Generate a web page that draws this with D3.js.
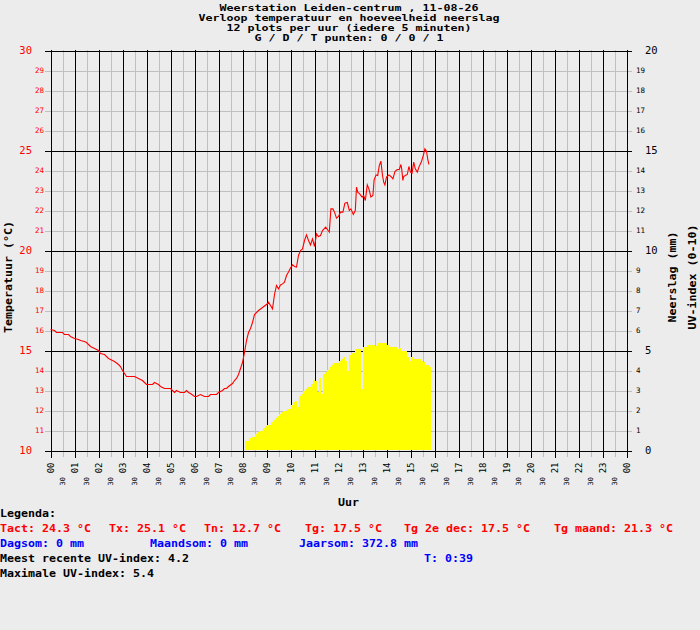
<!DOCTYPE html>
<html><head><meta charset="utf-8">
<script src="https://cdn.jsdelivr.net/npm/d3@7"></script>
<style>
html,body{margin:0;padding:0;background:#ececec;}
svg{display:block;}
text{font-family:"DejaVu Sans Mono",monospace;}
</style></head><body>
<svg id="c" width="700" height="630"></svg>
<script>
// ---------- DATA ----------
const titleLines = [
  "Weerstation Leiden-centrum , 11-08-26",
  "Verloop temperatuur en hoeveelheid neerslag",
  "12 plots per uur (iedere 5 minuten)",
  "G / D / T punten: 0 / 0 / 1"
];
const tempMinutes = [0,10,15,30,35,45,50,60,70,75,85,90,100,110,120,125,135,145,160,170,175,180,190,210,220,230,235,240,255,260,270,275,285,300,310,315,325,335,340,345,350,360,365,375,385,395,400,415,420,430,435,440,445,455,460,465,470,475,480,485,490,495,500,505,510,520,530,540,545,550,555,560,565,570,575,580,585,590,595,600,605,610,615,620,625,630,635,640,645,650,655,660,665,670,675,680,688,694,697,701,706,710,715,720,725,731,736,742,747,751,757,762,765,768,773,779,783,787,792,796,801,806,809,814,818,822,826,830,833,836,840,846,851,856,861,867,872,876,878,881,883,887,892,896,900,904,908,912,917,921,927,932,936,940,943,946];
const tempValues = [16.05,16.0,15.9,15.9,15.8,15.8,15.7,15.6,15.55,15.5,15.45,15.4,15.2,15.1,15.0,14.85,14.8,14.6,14.45,14.3,14.2,14.0,13.7,13.7,13.6,13.5,13.4,13.3,13.3,13.4,13.3,13.2,13.1,13.1,12.9,13.0,12.9,12.9,13.0,12.9,12.85,12.7,12.7,12.8,12.7,12.7,12.8,12.8,12.9,13.0,13.1,13.1,13.2,13.35,13.5,13.6,13.8,14.1,14.4,14.9,15.5,15.9,16.1,16.4,16.8,17.0,17.15,17.3,17.42,17.25,17.08,17.8,18.25,18.08,18.28,18.33,18.42,18.75,18.92,19.13,19.28,19.2,19.17,19.75,20.0,20.08,20.5,20.78,20.5,20.28,20.58,20.2,20.83,20.7,20.75,21.0,21.17,21.0,20.92,22.08,22.08,21.92,21.62,21.7,21.92,21.92,22.37,22.4,22.0,22.08,21.8,22.0,23.17,22.92,22.83,22.67,22.75,22.5,23.28,23.08,22.67,22.75,23.53,23.78,23.75,24.25,24.47,23.75,23.42,23.28,23.67,23.78,23.7,23.58,23.95,24.05,24.05,24.3,24.08,23.5,23.7,23.75,23.8,24.2,23.92,23.87,24.42,24.08,23.92,24.17,24.42,24.75,25.08,24.97,24.58,24.3];
const uvStartMinute = 485;   // 08:05
const uvStepMinutes = 5;
const uvValues = [0.5,0.5,0.62,0.7,0.7,0.83,0.92,1.0,1.0,1.13,1.22,1.3,1.3,1.42,1.53,1.63,1.73,1.83,1.92,2.0,2.0,2.1,2.1,2.3,2.42,2.5,2.2,2.72,2.83,2.97,3.08,3.2,3.2,3.33,3.53,3.47,2.92,3.62,2.83,3.83,3.92,4.03,4.2,4.3,4.4,4.4,4.4,4.5,4.6,4.7,4.5,4.0,4.8,4.9,4.9,5.08,5.08,5.08,3.1,5.17,5.2,5.3,5.3,5.3,5.3,5.25,5.38,5.4,5.4,5.4,5.38,5.3,5.2,5.2,5.2,5.2,5.08,5.13,5.0,4.97,4.97,4.7,4.5,4.7,4.6,4.6,4.58,4.58,4.5,4.42,4.3,4.3,4.2];
const tempMinorTicks = [11,12,13,14,16,17,18,19,21,22,23,24,26,27,28,29];
const tempMajorTicks = [10,15,20,25,30];
const rightMinorTicks = [1,2,3,4,6,7,8,9,11,12,13,14,16,17,18,19];
const rightMajorTicks = [0,5,10,15,20];
const hourTicks = d3.range(0, 25).map(h => h * 60);
const halfHourTicks = d3.range(0, 24).map(h => h * 60 + 30);
const leftTitle = "Temperatuur (°C)";
const rightTitles = ["Neerslag (mm)", "UV-index (0-10)"];
const xTitle = "Uur";
const legendHeader = "Legenda:";
const legendRed = ["Tact: 24.3 °C","Tx: 25.1 °C","Tn: 12.7 °C","Tg: 17.5 °C","Tg 2e dec: 17.5 °C","Tg maand: 21.3 °C"];
const legendBlue = ["Dagsom: 0 mm","Maandsom: 0 mm","Jaarsom: 372.8 mm"];
const legendUV = ["Meest recente UV-index: 4.2","Maximale UV-index: 5.4"];
const legendTime = "T: 0:39";

// ---------- LAYOUT ----------
const svg = d3.select("#c");
const FONT = "DejaVu Sans Mono, monospace";
const BOLD_SIZE = "10.5px";
const TITLE_SIZE = "8.5px";
const CHAR_W = 7;
const x = d3.scaleLinear().domain([0, 1440]).range([50.5, 626.5]);
const y = d3.scaleLinear().domain([10, 30]).range([450.5, 50.5]);
const y2 = d3.scaleLinear().domain([0, 20]).range([450.5, 50.5]);
const GRAY = "#c0c0c0";

function styleAxis(g, lineColor, textColor, size) {
  g.select(".domain").remove();
  g.selectAll(".tick line").attr("stroke", lineColor).attr("shape-rendering", "crispEdges");
  g.selectAll(".tick text").attr("fill", textColor).attr("font-size", size).attr("font-family", FONT);
}
function boldText(sel, size) {
  sel.attr("font-weight", "bold").attr("font-size", size || BOLD_SIZE)
     .attr("textLength", d => (typeof d === "string" ? d.length : 1) * CHAR_W)
     .attr("lengthAdjust", "spacingAndGlyphs");
}

// horizontal minor grid (gray) with red small labels
svg.append("g").attr("transform", "translate(45,0)")
  .call(d3.axisLeft(y).tickValues(tempMinorTicks).tickSize(-587).tickPadding(1).tickFormat(d3.format("d")))
  .call(g => styleAxis(g, GRAY, "#ff0000", "7.5px"));

// vertical half-hour grid (gray)
const hh = svg.append("g").attr("transform", "translate(0,457)")
  .call(d3.axisBottom(x).tickValues(halfHourTicks).tickSize(-407).tickFormat(() => "30"))
  .call(g => styleAxis(g, GRAY, "#000", "7px"));
hh.selectAll(".tick text").attr("transform", "rotate(-90)").attr("text-anchor", "end")
  .attr("x", -20).attr("y", 0).attr("dy", "0.35em");

// vertical hour grid (black)
const hg = svg.append("g").attr("transform", "translate(0,458)")
  .call(d3.axisBottom(x).tickValues(hourTicks).tickSize(-408).tickFormat(d => d3.format("02d")((d / 60) % 24)))
  .call(g => styleAxis(g, "#000", "#000", "9px"));
hg.selectAll(".tick text").attr("transform", "rotate(-90)").attr("text-anchor", "end")
  .attr("x", -4.5).attr("y", 0).attr("dy", "0.36em");

// horizontal major grid (black) with red larger labels
svg.append("g").attr("transform", "translate(45,0)")
  .call(d3.axisLeft(y).tickValues(tempMajorTicks).tickSize(-587).tickPadding(13).tickFormat(d3.format("d")))
  .call(g => styleAxis(g, "#000", "#ff0000", "10.5px"));

// right axis labels
svg.append("g").attr("transform", "translate(632,0)")
  .call(d3.axisRight(y2).tickValues(rightMinorTicks).tickSize(0).tickPadding(4).tickFormat(d3.format("d")))
  .call(g => styleAxis(g, "none", "#000", "7.5px"));
svg.append("g").attr("transform", "translate(632,0)")
  .call(d3.axisRight(y2).tickValues(rightMajorTicks).tickSize(0).tickPadding(13).tickFormat(d3.format("d")))
  .call(g => styleAxis(g, "none", "#000", "10.5px"));

// UV area (yellow, stepped)
const uvData = uvValues.map((v, i) => ({ m: uvStartMinute + i * uvStepMinutes, v }));
uvData.push({ m: uvStartMinute + uvValues.length * uvStepMinutes, v: uvValues[uvValues.length - 1] });
svg.append("path").datum(uvData)
  .attr("fill", "#ffff00").attr("shape-rendering", "crispEdges")
  .attr("d", d3.area().curve(d3.curveStepAfter).x(d => x(d.m)).y0(y2(0) - 0.5).y1(d => y2(d.v)));

// temperature line
const tData = tempMinutes.map((m, i) => ({ m, t: tempValues[i] }));
svg.append("path").datum(tData)
  .attr("fill", "none").attr("stroke", "#ff0000").attr("stroke-width", 1.1)
  .attr("d", d3.line().x(d => x(d.m)).y(d => y(d.t)));

// titles
svg.append("g").selectAll("text").data(titleLines).join("text")
  .attr("x", 349).attr("y", (d, i) => 11 + i * 10)
  .attr("text-anchor", "middle").attr("fill", "#000").call(boldText, TITLE_SIZE).text(d => d);

// axis titles
svg.append("g").selectAll("text").data([leftTitle]).join("text")
  .attr("transform", "translate(11.5,277) rotate(-90)")
  .attr("text-anchor", "middle").call(boldText).text(d => d);
svg.append("g").selectAll("text").data(rightTitles).join("text")
  .attr("transform", (d, i) => `translate(${676 + i * 20},277) rotate(-90)`)
  .attr("text-anchor", "middle").call(boldText).text(d => d);
svg.append("g").selectAll("text").data([xTitle]).join("text")
  .attr("x", 348.5).attr("y", 506).attr("text-anchor", "middle").call(boldText).text(d => d);

// legend
const leg = svg.append("g");
leg.selectAll("text.h").data([legendHeader]).join("text").attr("class", "h")
  .attr("x", 0).attr("y", 517).attr("fill", "#000").call(boldText).text(d => d);
const redX = [0, 109, 204, 305, 404, 554];
leg.selectAll("text.r").data(legendRed).join("text").attr("class", "r")
  .attr("x", (d, i) => redX[i]).attr("y", 532).attr("fill", "#ff0000").call(boldText).text(d => d);
const blueX = [0, 150, 299];
leg.selectAll("text.b").data(legendBlue).join("text").attr("class", "b")
  .attr("x", (d, i) => blueX[i]).attr("y", 547).attr("fill", "#0000ff").call(boldText).text(d => d);
leg.selectAll("text.u").data(legendUV).join("text").attr("class", "u")
  .attr("x", 0).attr("y", (d, i) => 562 + i * 14.5).attr("fill", "#000").call(boldText).text(d => d);
leg.selectAll("text.t").data([legendTime]).join("text").attr("class", "t")
  .attr("x", 424).attr("y", 562).attr("fill", "#0000ff").call(boldText).text(d => d);
</script>
</body></html>
